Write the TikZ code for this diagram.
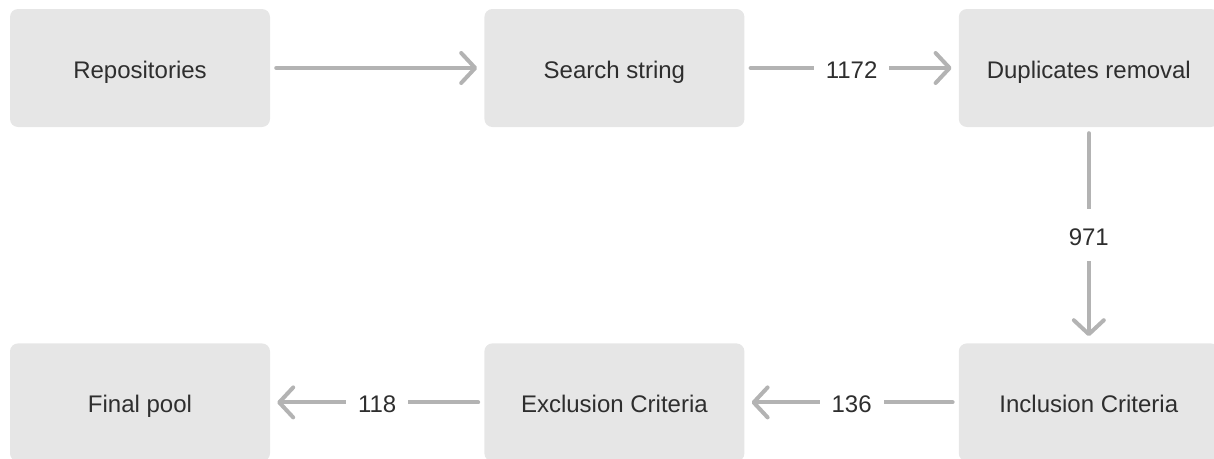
\documentclass[tikz,border=0pt]{standalone}
\usepackage{fontspec}
\setmainfont{Liberation Sans}
\usepackage{xcolor}
\usetikzlibrary{arrows.meta,positioning}

\definecolor{boxgray}{HTML}{E6E6E6}
\definecolor{linegray}{HTML}{B3B3B3}
\definecolor{textgray}{HTML}{2E2E2E}

\begin{document}
\begin{tikzpicture}[
  x=1pt, y=-1pt,
  node distance=216pt and 214pt,
  box/.style={fill=boxgray, rounded corners=8pt, align=center, minimum width=260pt, minimum height=118pt, font=\fontsize{24}{28}\selectfont, text=textgray, text height=20pt, text depth=0pt},
  num/.style={fill=white, inner xsep=12pt, inner ysep=16pt, font=\fontsize{24}{28}\selectfont, text=textgray, text height=20pt, text depth=0pt},
  arr/.style={-{Straight Barb[length=14pt, width=30pt, round]}, line width=4pt, draw=linegray, line cap=round, shorten <=6pt, shorten >=7pt}
]
\useasboundingbox (0,0) rectangle (1214,458);
\clip (0,0) rectangle (1214,458);
\node[box] (repo) at (140,68) {Repositories};
\node[box, right=of repo] (search) {Search string};
\node[box, right=of search] (dup) {Duplicates removal};
\node[box, below=of dup] (incl) {Inclusion Criteria};
\node[box, left=of incl] (excl) {Exclusion Criteria};
\node[box, left=of excl] (final) {Final pool};
\draw[arr] (repo) -- (search);
\draw[arr] (search) -- node[num] {1172} (dup);
\draw[arr] (dup) -- node[num] {971} (incl);
\draw[arr] (incl) -- node[num] {136} (excl);
\draw[arr] (excl) -- node[num] {118} (final);
\end{tikzpicture}
\end{document}
